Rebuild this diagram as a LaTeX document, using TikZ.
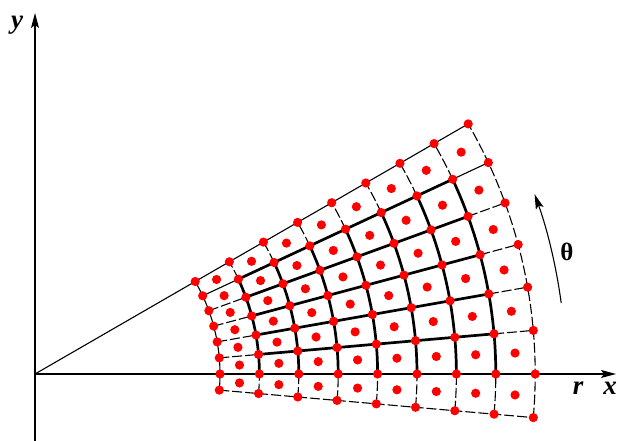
\documentclass[tikz,border=0pt]{standalone}
\usepackage{fontspec}
\setmainfont{Liberation Serif}
\usepackage{xcolor}
\usepackage{tikz}
\usetikzlibrary{arrows.meta}
\definecolor{dotred}{RGB}{255,0,0}
\tikzset{
  axisline/.style={
    line width=1.1pt,
    -{Stealth[length=15pt,width=8pt,inset=3pt]}
  },
  gridthick/.style={
    line width=2.7pt,
    line cap=round
  },
  gridthin/.style={
    line width=1.1pt
  },
  griddash/.style={
    line width=1.1pt,
    dash pattern=on 10pt off 3pt
  },
  gridpoint/.style={
    fill=dotred
  },
  axislabel/.style={
    font=\fontsize{27}{29}\selectfont\bfseries\itshape,
    inner sep=0pt
  }
}

\begin{document}
\begin{tikzpicture}[x=1pt,y=1pt]
\useasboundingbox (0,0) rectangle (618,441);
\coordinate (O) at (35,67);
\coordinate (xend) at (616,67);
\coordinate (ybot) at (35,0);
\coordinate (yend) at (35,428);

% axes
\draw[axisline] (O) -- (xend);
\draw[axisline] (ybot) -- (yend);
\node[axislabel] (ylab) at (17,416) {y};
\node[axislabel] (rlab) at (578,53) {r};
\node[axislabel] (xlab) at (610,53) {x};

\begin{scope}[shift={(O)}]
% boundary lines
\draw[gridthin] (0,0) -- (30:500.2);
\draw[gridthin] (-5:185) arc[start angle=-5, end angle=30, radius=185];
\draw[griddash] (-5:185) -- (-5:500.2);
\draw[griddash] (-5:500.2) arc[start angle=-5, end angle=30, radius=500.2];
\foreach \a in {0,25} {
  \draw[gridthin] (\a:185) -- (\a:224.4);
  \draw[gridthin] (\a:460.8) -- (\a:500.2);
}
\foreach \a in {5,10,15,20} {
  \draw[griddash] (\a:185) -- (\a:224.4);
  \draw[griddash] (\a:460.8) -- (\a:500.2);
}
\foreach \i in {1,...,7} {
  \pgfmathsetmacro{\r}{185+39.4*\i}
  \draw[griddash] (-5:\r) arc[start angle=-5, end angle=0, radius=\r];
  \draw[griddash] (25:\r) arc[start angle=25, end angle=30, radius=\r];
}
% interior grid
\foreach \i in {1,...,7} {
  \pgfmathsetmacro{\r}{185+39.4*\i}
  \draw[gridthick] (0:\r) arc[start angle=0, end angle=25, radius=\r];
}
\foreach \a in {0,5,...,25} {
  \draw[gridthick] (\a:224.4) -- (\a:460.8);
}
% points at nodes and cell centres
\foreach \i in {0,...,8} {
  \foreach \a in {-5,0,...,30} {
    \fill[gridpoint] ({\a}:{185+39.4*\i}) circle[radius=4.6];
  }
}
\foreach \i in {0,...,7} {
  \foreach \a in {-5,0,...,25} {
    \fill[gridpoint] ({\a+2.5}:{185+39.4*\i+19.7}) circle[radius=4.6];
  }
}
% angular direction
\coordinate (tstart) at (7.7:531);
\draw[line width=1.1pt, -{Stealth[length=15pt,width=8pt,inset=3pt]}] (tstart) arc[start angle=7.7, end angle=19.8, radius=531];
\end{scope}
\node[font=\fontsize{25}{27}\selectfont\bfseries, inner sep=0pt] (tlab) at (567,189) {θ};
\end{tikzpicture}
\end{document}
